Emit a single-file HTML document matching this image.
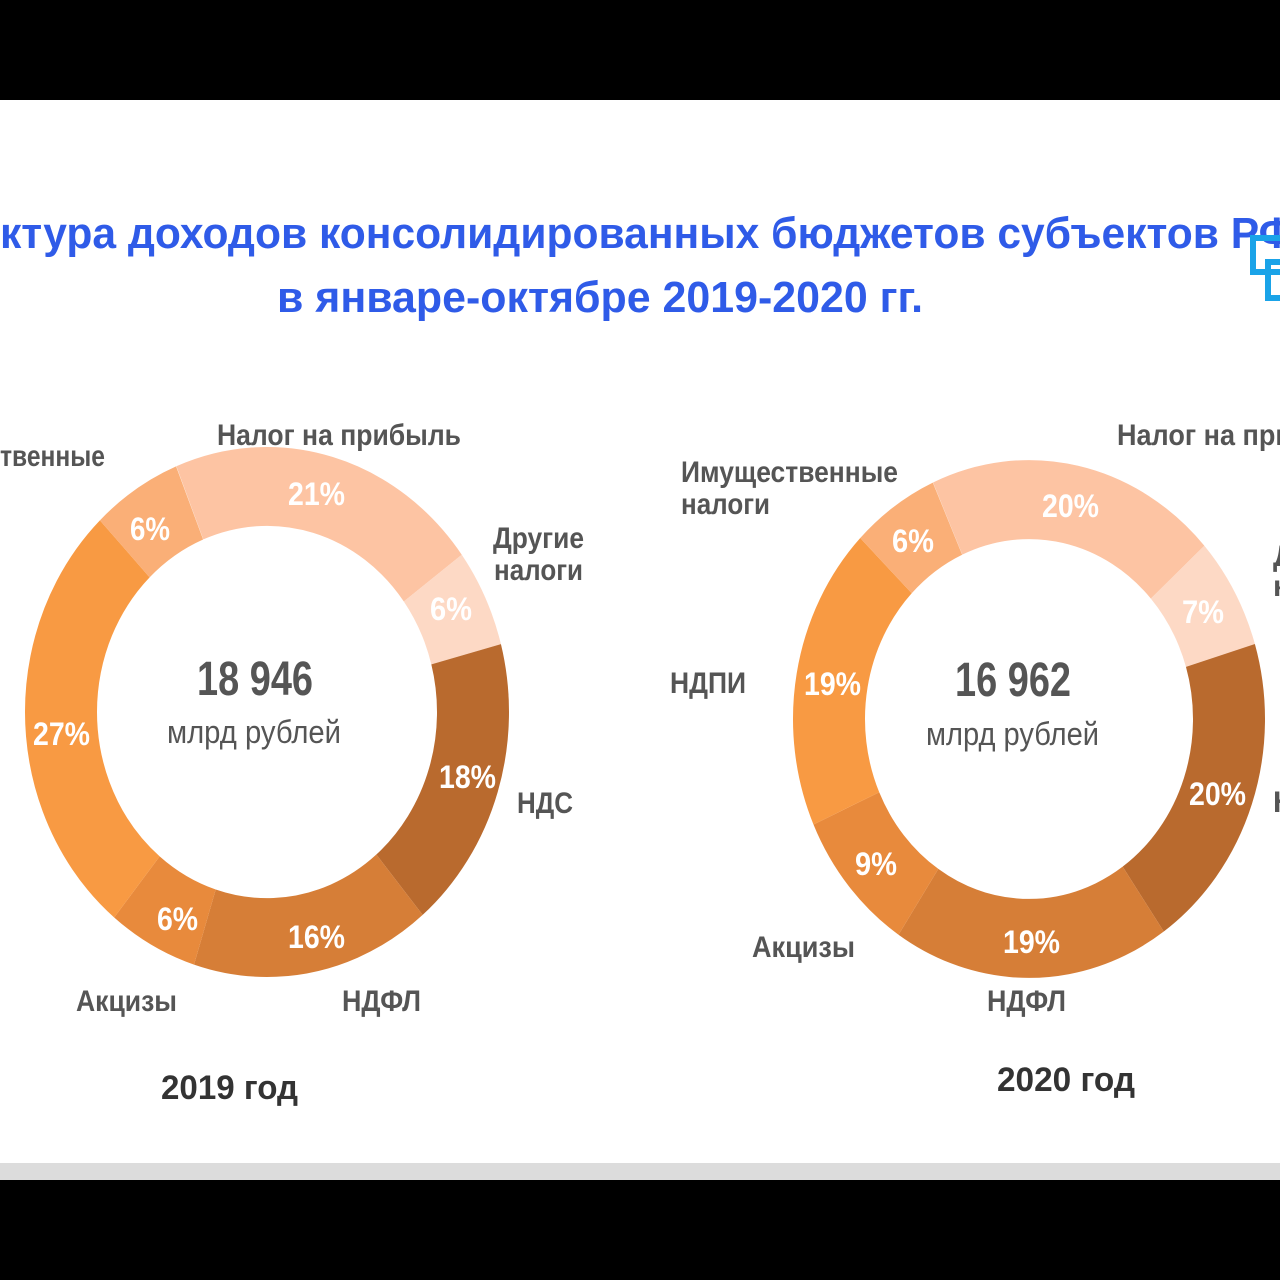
<!DOCTYPE html>
<html><head><meta charset="utf-8"><style>
html,body{margin:0;padding:0;background:#000;}
svg{display:block;}
text{font-family:"Liberation Sans Narrow","Liberation Sans",sans-serif;}
</style></head><body>
<svg width="1280" height="1280" viewBox="0 0 1280 1280" xmlns="http://www.w3.org/2000/svg">
<rect x="0" y="0" width="1280" height="1280" fill="#000"/>
<rect x="0" y="100" width="1280" height="1065" fill="#fff"/>
<rect x="0" y="1163" width="1280" height="17" fill="#dcdcdc"/>

<!-- title -->
<g fill="#2f5be8" font-weight="bold" font-size="44">
<text x="0" y="248" textLength="1295" lengthAdjust="spacingAndGlyphs">ктура доходов консолидированных бюджетов субъектов РФ</text>
<text x="277" y="312" textLength="646" lengthAdjust="spacingAndGlyphs">в январе-октябре 2019-2020 гг.</text>
</g>
<g fill="none" stroke="#1aa3e8" stroke-width="6">
<rect x="1253" y="238" width="30" height="34"/>
<rect x="1268" y="262" width="20" height="36"/>
</g>

<!-- donut 2019 -->
<g transform="translate(267,712) scale(1,1.095) rotate(-112)" fill="none" stroke-width="72">
<circle r="206" pathLength="100" stroke="#fdc4a3" stroke-dasharray="21 100" stroke-dashoffset="0"/>
<circle r="206" pathLength="100" stroke="#fdd9c5" stroke-dasharray="6 100" stroke-dashoffset="-21"/>
<circle r="206" pathLength="100" stroke="#b96a2e" stroke-dasharray="18 100" stroke-dashoffset="-27"/>
<circle r="206" pathLength="100" stroke="#d67e37" stroke-dasharray="16 100" stroke-dashoffset="-45"/>
<circle r="206" pathLength="100" stroke="#e88a3c" stroke-dasharray="6 100" stroke-dashoffset="-61"/>
<circle r="206" pathLength="100" stroke="#f89a43" stroke-dasharray="27 100" stroke-dashoffset="-67"/>
<circle r="206" pathLength="100" stroke="#faaf77" stroke-dasharray="6 100" stroke-dashoffset="-94"/>
</g>

<!-- donut 2020 -->
<g transform="translate(1029,719) scale(1,1.097) rotate(-114)" fill="none" stroke-width="72">
<circle r="200" pathLength="100" stroke="#fdc4a3" stroke-dasharray="20 100" stroke-dashoffset="0"/>
<circle r="200" pathLength="100" stroke="#fdd9c5" stroke-dasharray="7 100" stroke-dashoffset="-20"/>
<circle r="200" pathLength="100" stroke="#b96a2e" stroke-dasharray="20 100" stroke-dashoffset="-27"/>
<circle r="200" pathLength="100" stroke="#d67e37" stroke-dasharray="19 100" stroke-dashoffset="-47"/>
<circle r="200" pathLength="100" stroke="#e88a3c" stroke-dasharray="9 100" stroke-dashoffset="-66"/>
<circle r="200" pathLength="100" stroke="#f89a43" stroke-dasharray="19 100" stroke-dashoffset="-75"/>
<circle r="200" pathLength="100" stroke="#faaf77" stroke-dasharray="6 100" stroke-dashoffset="-94"/>
</g>

<!-- percents -->
<g fill="#fff" font-weight="bold" font-size="32">
<text x="288" y="505" textLength="57" lengthAdjust="spacingAndGlyphs">21%</text>
<text x="130" y="540" textLength="40" lengthAdjust="spacingAndGlyphs">6%</text>
<text x="430" y="620" textLength="42" lengthAdjust="spacingAndGlyphs">6%</text>
<text x="33" y="745" textLength="57" lengthAdjust="spacingAndGlyphs">27%</text>
<text x="439" y="788" textLength="57" lengthAdjust="spacingAndGlyphs">18%</text>
<text x="288" y="948" textLength="57" lengthAdjust="spacingAndGlyphs">16%</text>
<text x="157" y="930" textLength="41" lengthAdjust="spacingAndGlyphs">6%</text>

<text x="1042" y="517" textLength="57" lengthAdjust="spacingAndGlyphs">20%</text>
<text x="892" y="552" textLength="42" lengthAdjust="spacingAndGlyphs">6%</text>
<text x="1182" y="623" textLength="42" lengthAdjust="spacingAndGlyphs">7%</text>
<text x="804" y="695" textLength="57" lengthAdjust="spacingAndGlyphs">19%</text>
<text x="1189" y="805" textLength="57" lengthAdjust="spacingAndGlyphs">20%</text>
<text x="855" y="875" textLength="42" lengthAdjust="spacingAndGlyphs">9%</text>
<text x="1003" y="953" textLength="57" lengthAdjust="spacingAndGlyphs">19%</text>
</g>

<!-- labels -->
<g fill="#555" font-weight="bold" font-size="30">
<text x="0" y="466" textLength="105" lengthAdjust="spacingAndGlyphs">твенные</text>
<text x="217" y="445" textLength="244" lengthAdjust="spacingAndGlyphs">Налог на прибыль</text>
<text x="493" y="548" textLength="91" lengthAdjust="spacingAndGlyphs">Другие</text>
<text x="494" y="580" textLength="89" lengthAdjust="spacingAndGlyphs">налоги</text>
<text x="517" y="813" textLength="56" lengthAdjust="spacingAndGlyphs">НДС</text>
<text x="342" y="1011" textLength="79" lengthAdjust="spacingAndGlyphs">НДФЛ</text>
<text x="76" y="1011" textLength="101" lengthAdjust="spacingAndGlyphs">Акцизы</text>

<text x="1117" y="445" textLength="175" lengthAdjust="spacingAndGlyphs">Налог на при</text>
<text x="681" y="482" textLength="217" lengthAdjust="spacingAndGlyphs">Имущественные</text>
<text x="681" y="514" textLength="89" lengthAdjust="spacingAndGlyphs">налоги</text>
<text x="670" y="693" textLength="76" lengthAdjust="spacingAndGlyphs">НДПИ</text>
<text x="1273" y="566">Д</text>
<text x="1273" y="596">н</text>
<text x="1273" y="812">Н</text>
<text x="752" y="957" textLength="103" lengthAdjust="spacingAndGlyphs">Акцизы</text>
<text x="987" y="1011" textLength="79" lengthAdjust="spacingAndGlyphs">НДФЛ</text>
</g>

<g fill="#333" font-weight="bold" font-size="34">
<text x="161" y="1099" textLength="137" lengthAdjust="spacingAndGlyphs">2019 год</text>
<text x="997" y="1091" textLength="138" lengthAdjust="spacingAndGlyphs">2020 год</text>
</g>

<!-- centers -->
<g fill="#555">
<text x="197" y="695" font-size="48" font-weight="bold" textLength="116" lengthAdjust="spacingAndGlyphs">18 946</text>
<text x="167" y="743" font-size="32" textLength="174" lengthAdjust="spacingAndGlyphs">млрд рублей</text>
<text x="955" y="696" font-size="48" font-weight="bold" textLength="116" lengthAdjust="spacingAndGlyphs">16 962</text>
<text x="926" y="745" font-size="32" textLength="173" lengthAdjust="spacingAndGlyphs">млрд рублей</text>
</g>
</svg>
</body></html>
